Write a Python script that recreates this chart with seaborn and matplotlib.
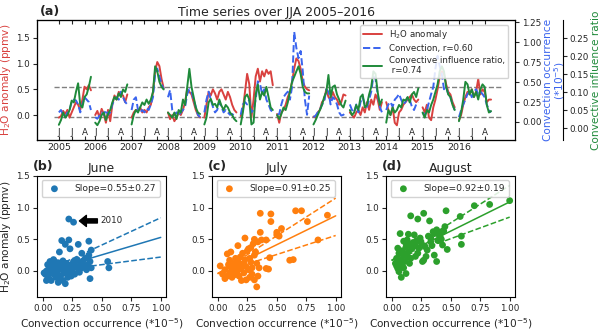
import numpy as np
import pandas as pd
import seaborn as sns
import matplotlib.pyplot as plt
from matplotlib.lines import Line2D

sns.set_style('ticks')
plt.rcParams['font.family'] = ['DejaVu Sans']
plt.rcParams['axes.edgecolor'] = 'black'

years = list(range(2005, 2017))
# pentad index inside each JJA season (0 = 1 June)
pentads = list(range(16))
month_pentads = [0, 6, 12]
month_labels = ['J', 'J', 'A']

# H2O anomaly (ppmv), one row per year
h2o_anom = [
    [-0.05, -0.02, 0.08, 0.02, 0.10, -0.05, 0.05, 0.15, 0.25, 0.20, 0.10, 0.30, 0.55, 0.50, 0.58, 0.48],
    [0.00, 0.08, -0.05, 0.12, 0.02, -0.15, 0.10, -0.12, 0.20, 0.38, 0.30, 0.45, 0.40, 0.38, 0.25, 0.40],
    [-0.05, 0.05, 0.10, 0.08, 0.15, 0.05, 0.10, 0.05, 0.15, 0.20, 0.45, 0.85, 1.03, 0.95, 0.70, 0.52],
    [0.05, -0.08, 0.00, -0.12, -0.05, 0.05, 0.00, 0.10, 0.25, 0.50, 0.45, 0.40, 0.25, 0.10, 0.00, -0.05],
    [-0.05, 0.20, 0.45, 0.38, 0.50, 0.42, 0.30, 0.45, 0.50, 0.40, 0.30, 0.45, 0.35, 0.20, 0.10, 0.05],
    [-0.02, 0.10, 0.45, 0.80, 0.60, -0.05, 0.30, 0.75, 0.90, 0.65, 0.85, 0.75, 0.88, 0.80, 0.85, 0.58],
    [0.02, -0.15, 0.05, 0.10, 0.20, 0.35, 0.45, 0.65, 0.90, 1.10, 1.05, 0.90, 0.65, 0.55, 0.50, 0.48],
    [-0.03, -0.05, 0.05, 0.10, 0.25, 0.30, 0.50, 0.35, 0.30, 0.45, 0.35, 0.30, 0.20, 0.25, 0.40, 0.38],
    [0.05, 0.00, -0.05, 0.05, 0.10, 0.00, 0.15, 0.05, 0.25, 0.10, 0.30, 0.20, 0.40, 0.30, 0.10, 0.25],
    [0.25, 0.10, 0.00, 0.15, -0.15, -0.20, 0.05, 0.10, 0.20, 0.25, 0.30, 0.35, 0.40, 0.30, 0.25, 0.30],
    [0.15, 0.05, 0.20, -0.05, -0.10, 0.15, 0.30, 0.50, 0.75, 0.85, 0.80, 0.60, 0.45, 0.40, 0.25, 0.15],
    [-0.10, 0.00, 0.20, 0.35, 0.45, 0.40, 0.50, 0.35, 0.45, 0.70, 0.40, 0.50, 0.45, 0.25, 0.30, 0.30],
]

# convection occurrence (*1e-5)
convection = [
    [0.12, 0.15, 0.09, 0.06, 0.12, 0.15, 0.25, 0.28, 0.27, 0.22, 0.12, 0.22, 0.31, 0.28, 0.25, 0.15],
    [0.06, 0.04, 0.08, 0.12, 0.09, 0.15, 0.09, 0.12, 0.22, 0.28, 0.31, 0.28, 0.38, 0.31, 0.25, 0.22],
    [0.15, 0.28, 0.31, 0.15, 0.12, 0.15, 0.12, 0.17, 0.15, 0.22, 0.31, 0.60, 0.67, 0.57, 0.48, 0.41],
    [0.31, 0.40, 0.15, 0.09, 0.12, 0.08, 0.12, 0.15, 0.19, 0.35, 0.41, 0.38, 0.28, 0.19, 0.09, 0.06],
    [0.12, 0.28, 0.38, 0.28, 0.19, 0.12, 0.15, 0.25, 0.19, 0.12, 0.15, 0.12, 0.09, 0.10, 0.08, 0.09],
    [0.09, 0.22, 0.25, 0.22, 0.28, 0.12, 0.15, 0.28, 0.51, 0.48, 0.35, 0.41, 0.28, 0.22, 0.15, 0.12],
    [0.09, 0.10, 0.22, 0.31, 0.35, 0.38, 0.28, 0.44, 1.13, 0.93, 0.80, 0.89, 0.64, 0.28, 0.09, 0.33],
    [0.06, 0.08, 0.12, 0.15, 0.22, 0.25, 0.41, 0.38, 0.22, 0.31, 0.28, 0.22, 0.12, 0.08, 0.09, 0.12],
    [0.22, 0.15, 0.12, 0.22, 0.12, 0.25, 0.31, 0.22, 0.19, 0.28, 0.38, 0.57, 0.54, 0.35, 0.19, 0.12],
    [0.15, 0.22, 0.25, 0.19, 0.28, 0.31, 0.35, 0.28, 0.22, 0.25, 0.31, 0.28, 0.19, 0.15, 0.22, 0.25],
    [0.12, 0.08, 0.15, 0.25, 0.35, 0.44, 0.67, 0.83, 0.70, 0.60, 0.41, 0.44, 0.35, 0.31, 0.22, 0.15],
    [0.06, 0.15, 0.22, 0.28, 0.35, 0.38, 0.31, 0.38, 0.41, 0.35, 0.38, 0.35, 0.31, 0.22, 0.15, 0.12],
]

# convective influence ratio
cir = [
    [0.010, 0.023, 0.044, 0.030, 0.037, 0.051, 0.077, 0.072, 0.101, 0.125, 0.065, 0.058, 0.087, 0.094, 0.115, 0.143],
    [0.016, 0.009, 0.020, 0.037, 0.044, 0.023, 0.040, 0.051, 0.072, 0.087, 0.080, 0.097, 0.087, 0.108, 0.101, 0.122],
    [0.011, 0.037, 0.051, 0.044, 0.058, 0.072, 0.065, 0.080, 0.068, 0.080, 0.101, 0.172, 0.158, 0.129, 0.115, 0.108],
    [0.044, 0.037, 0.030, 0.044, 0.026, 0.051, 0.044, 0.080, 0.065, 0.115, 0.165, 0.115, 0.087, 0.058, 0.044, 0.040],
    [0.011, 0.030, 0.072, 0.082, 0.065, 0.068, 0.058, 0.080, 0.063, 0.051, 0.065, 0.058, 0.044, 0.037, 0.026, 0.020],
    [0.011, 0.044, 0.087, 0.094, 0.080, 0.011, 0.016, 0.094, 0.122, 0.080, 0.101, 0.091, 0.115, 0.087, 0.058, 0.051],
    [0.037, 0.026, 0.040, 0.058, 0.051, 0.072, 0.101, 0.129, 0.143, 0.158, 0.172, 0.151, 0.115, 0.101, 0.097, 0.097],
    [0.011, 0.023, 0.037, 0.051, 0.065, 0.087, 0.101, 0.148, 0.087, 0.115, 0.119, 0.094, 0.080, 0.065, 0.058, 0.077],
    [0.051, 0.037, 0.044, 0.065, 0.051, 0.087, 0.094, 0.058, 0.065, 0.094, 0.115, 0.158, 0.151, 0.101, 0.065, 0.080],
    [0.016, 0.051, 0.037, 0.058, 0.044, 0.051, 0.065, 0.058, 0.080, 0.077, 0.087, 0.072, 0.094, 0.101, 0.087, 0.111],
    [0.044, 0.030, 0.051, 0.044, 0.065, 0.080, 0.101, 0.122, 0.158, 0.172, 0.158, 0.115, 0.094, 0.087, 0.065, 0.051],
    [0.020, 0.044, 0.080, 0.129, 0.122, 0.094, 0.108, 0.087, 0.101, 0.080, 0.108, 0.122, 0.115, 0.065, 0.044, 0.048],
]

h2o_levels = [0.54, -0.045]

# monthly scatter: convection occurrence vs H2O anomaly
june_conv = [0.22, 0.26, 0.16, 0.22, 0.19, 0.23, 0.30, 0.39, 0.14, 0.33, 0.39, 0.41, 0.55, 0.56, 0.40,
             0.02, 0.03, 0.04, 0.05, 0.05, 0.06, 0.07, 0.07, 0.08, 0.08, 0.09, 0.10, 0.10, 0.11, 0.11,
             0.12, 0.12, 0.13, 0.13, 0.14, 0.15, 0.15, 0.16, 0.17, 0.17, 0.18, 0.18, 0.19, 0.20, 0.20,
             0.21, 0.22, 0.23, 0.24, 0.25, 0.26, 0.27, 0.28, 0.29, 0.30, 0.31, 0.32, 0.33, 0.34, 0.35,
             0.36, 0.37, 0.38, 0.40, 0.41, 0.06, 0.09, 0.14, 0.04, 0.24, 0.03, 0.01]
june_h2o = [0.82, 0.77, 0.48, 0.49, 0.42, 0.35, 0.42, 0.47, 0.30, 0.28, 0.25, 0.33, 0.15, 0.05, -0.12,
            -0.05, 0.00, -0.08, 0.03, -0.12, 0.08, -0.02, -0.15, 0.05, 0.12, -0.05, 0.02, 0.15, -0.10, 0.08,
            0.00, -0.05, 0.13, -0.18, 0.05, -0.08, 0.10, 0.02, -0.15, 0.16, -0.03, 0.07, -0.20, 0.00, 0.12,
            -0.10, 0.05, -0.02, 0.10, 0.02, 0.15, -0.05, 0.08, 0.18, 0.03, -0.02, 0.12, 0.05, 0.16, 0.08,
            0.20, 0.02, 0.10, 0.15, 0.05, 0.15, 0.18, -0.12, 0.10, -0.08, -0.15, -0.03]

july_conv = [0.36, 0.45, 0.45, 0.66, 0.71, 0.76, 0.93, 0.85, 0.54, 0.50, 0.52, 0.50, 0.36, 0.23, 0.34,
             0.31, 0.37, 0.41, 0.61, 0.64, 0.44, 0.41, 0.43, 0.28, 0.31, 0.27, 0.30, 0.26, 0.33, 0.29,
             0.02, 0.04, 0.06, 0.06, 0.08, 0.08, 0.09, 0.10, 0.10, 0.11, 0.12, 0.12, 0.13, 0.14, 0.14,
             0.15, 0.15, 0.16, 0.17, 0.17, 0.18, 0.18, 0.19, 0.19, 0.20, 0.20, 0.21, 0.22, 0.22, 0.23,
             0.24, 0.24, 0.25, 0.26, 0.27, 0.28, 0.29, 0.31, 0.32, 0.33, 0.34, 0.35]
july_h2o = [0.91, 0.90, 0.78, 0.95, 0.95, 0.78, 0.88, 0.49, 0.67, 0.61, 0.55, 0.57, 0.61, 0.52, 0.46,
            0.50, 0.49, 0.49, 0.17, 0.18, 0.21, 0.04, 0.03, 0.37, 0.25, 0.20, 0.43, 0.35, 0.12, 0.05,
            0.08, -0.05, -0.12, 0.02, 0.27, -0.08, 0.10, 0.17, -0.03, 0.30, 0.05, -0.10, 0.00, 0.12, -0.06,
            0.20, 0.08, -0.02, 0.40, 0.15, 0.03, -0.08, 0.22, 0.10, 0.05, -0.15, 0.28, 0.12, -0.03, 0.18,
            -0.14, 0.07, 0.32, 0.02, -0.10, 0.14, -0.05, -0.14, 0.30, -0.25, -0.08, 0.05]

aug_conv = [1.00, 0.83, 0.70, 0.58, 0.46, 0.27, 0.16, 0.22, 0.32, 0.59, 0.59, 0.47, 0.38, 0.38, 0.41,
            0.36, 0.41, 0.42, 0.33, 0.33, 0.24, 0.19, 0.07, 0.13, 0.12, 0.15, 0.05, 0.10, 0.27, 0.26,
            0.29, 0.36, 0.22, 0.20, 0.16, 0.10, 0.08, 0.05, 0.06, 0.08, 0.12, 0.09, 0.03, 0.04, 0.06,
            0.07, 0.09, 0.11, 0.12, 0.13, 0.14, 0.15, 0.17, 0.18, 0.20, 0.21, 0.23, 0.25, 0.28, 0.30,
            0.31, 0.34, 0.35, 0.39, 0.40, 0.43, 0.44, 0.45, 0.05, 0.10, 0.14, 0.04]
aug_h2o = [1.11, 1.05, 1.03, 0.86, 0.95, 0.91, 0.87, 0.82, 0.79, 0.55, 0.42, 0.34, 0.15, 0.65, 0.60,
           0.59, 0.54, 0.50, 0.46, 0.52, 0.52, 0.57, 0.59, 0.49, 0.44, 0.41, 0.36, 0.47, 0.17, 0.15,
           0.23, 0.25, 0.28, 0.23, 0.20, 0.25, 0.17, 0.04, -0.01, -0.10, -0.04, 0.07, 0.12, 0.20, 0.28,
           0.10, 0.32, 0.15, 0.38, 0.22, 0.30, 0.12, 0.35, 0.45, 0.40, 0.48, 0.36, 0.44, 0.39, 0.33,
           0.55, 0.40, 0.62, 0.48, 0.57, 0.41, 0.63, 0.70, 0.15, 0.05, 0.58, 0.08]

# fitted lines: intercept, slope, upper/lower dashed slope
fit_intercept = [-0.02, -0.04, 0.17]
fit_slope = [0.55, 0.91, 0.92]
fit_err = [0.27, 0.25, 0.19]
band_hi = [0.86, 1.19, 1.18]
band_lo = [0.24, 0.60, 0.68]

red, blue, green = '#d9413f', '#3a64ee', '#1f8a3a'
TICK, LAB = 6.3, 7.6

# long table for the time series
rows = []
for i, yr in enumerate(years):
    for k in pentads:
        rows.append({'year': yr, 'x': i + k / 17, 'h2o': h2o_anom[i][k],
                     'conv': convection[i][k], 'cir': cir[i][k]})
ts = pd.DataFrame(rows)

fig = plt.figure(figsize=(6.0, 3.29), dpi=100)
ax = fig.add_axes([0.0617, 0.5745, 0.7966, 0.3645])
ax2 = ax.twinx()
ax3 = ax.twinx()
ax3.spines['right'].set_position(('axes', 1.10))

ax.hlines(h2o_levels, -0.12, 12.2, colors='grey', linestyles='--', linewidth=1)
sns.lineplot(data=ts, x='x', y='h2o', units='year', estimator=None, color=red,
             lw=1.4, ax=ax, legend=False)
sns.lineplot(data=ts, x='x', y='conv', units='year', estimator=None, color=blue,
             lw=1.4, linestyle='--', ax=ax2, legend=False)
sns.lineplot(data=ts, x='x', y='cir', units='year', estimator=None, color=green,
             lw=1.4, ax=ax3, legend=False)

ax.set_xlim(-0.6, 12.54)
ax.set_ylim(-0.485, 1.845)
ax2.set_ylim(-0.226, 1.278)
ax3.set_ylim(-0.032, 0.30)

ax.set_yticks([0.0, 0.5, 1.0, 1.5])
ax2.set_yticks([0.0, 0.25, 0.5, 0.75, 1.0, 1.25])
ax3.set_yticks([0.0, 0.05, 0.10, 0.15, 0.20, 0.25])

ax.xaxis.remove_overlapping_locs = False
ax.set_xticks([i + p / 17 for i in range(len(years)) for p in month_pentads])
ax.set_xticklabels(month_labels * len(years))
ax.set_xticks(range(len(years)), minor=True)
ax.set_xticklabels([str(y) for y in years], minor=True)
ax.tick_params(axis='x', which='major', direction='in', top=True, bottom=True,
               length=3, pad=-8.5, labelsize=TICK)
ax.tick_params(axis='x', which='minor', length=0, pad=2, labelsize=6.8)
for a in (ax, ax2, ax3):
    a.tick_params(axis='y', labelsize=TICK, length=3, pad=2)
    a.set_xlabel('')

ax.set_ylabel('H$_2$O anomaly (ppmv)', color=red, fontsize=LAB, labelpad=2)
ax2.set_ylabel('Convection occurrence\n(*10$^{-5}$)', color=blue, fontsize=LAB,
               labelpad=1, linespacing=0.95)
ax3.set_ylabel('Convective influence ratio', color=green, fontsize=LAB, labelpad=1)
ax.set_title('Time series over JJA 2005–2016', fontsize=9, pad=3)
ax.text(0.005, 1.02, '(a)', transform=ax.transAxes, fontsize=9,
        fontweight='bold', ha='left', va='bottom')

handles = [Line2D([], [], color=red, lw=1.4),
           Line2D([], [], color=blue, lw=1.4, linestyle='--'),
           Line2D([], [], color=green, lw=1.4)]
ax3.legend(handles, ['H$_2$O anomaly', 'Convection, r=0.60',
                     'Convective influence ratio,\n r=0.74'],
           loc='upper right', fontsize=6.2, borderpad=0.35, labelspacing=0.35,
           handlelength=2.2, framealpha=0.85, bbox_to_anchor=(0.995, 0.995))

# scatter panels
months = ['June', 'July', 'August']
tags = ['(b)', '(c)', '(d)']
conv_sets = [june_conv, july_conv, aug_conv]
h2o_sets = [june_h2o, july_h2o, aug_h2o]
colors = ['#1f77b4', '#ff7f0e', '#2ca02c']
lefts = [0.0617, 0.3533, 0.6433]
xfit = np.linspace(0, 1, 20)
for j in range(3):
    axs = fig.add_axes([lefts[j], 0.0973, 0.215, 0.368])
    axs.plot(xfit, fit_intercept[j] + fit_slope[j] * xfit, color=colors[j], lw=1.1, zorder=1)
    axs.plot(xfit, fit_intercept[j] + band_hi[j] * xfit, color=colors[j], lw=1.1, ls='--', zorder=1)
    axs.plot(xfit, fit_intercept[j] + band_lo[j] * xfit, color=colors[j], lw=1.1, ls='--', zorder=1)
    sns.scatterplot(x=conv_sets[j], y=h2o_sets[j], color=colors[j], s=24,
                    edgecolor='none', ax=axs, zorder=2,
                    label=f'Slope={fit_slope[j]:.2f}±{fit_err[j]:.2f}')
    axs.set_xlim(-0.05, 1.045)
    axs.set_ylim(-0.41, 1.5)
    axs.set_xticks([0, 0.25, 0.5, 0.75, 1.0])
    axs.set_yticks([0.0, 0.5, 1.0, 1.5])
    axs.tick_params(labelsize=TICK, length=3, pad=2)
    axs.set_xlabel('Convection occurrence (*10$^{-5}$)', fontsize=LAB, labelpad=2)
    axs.set_title(months[j], fontsize=9, pad=3)
    axs.text(-0.03, 1.02, tags[j], transform=axs.transAxes, fontsize=9,
             fontweight='bold', ha='left', va='bottom')
    axs.legend(loc='upper left', fontsize=6.6, borderpad=0.4, handletextpad=1.2,
               framealpha=0.85)
    if j == 0:
        axs.set_ylabel('H$_2$O anomaly (ppmv)', fontsize=LAB, labelpad=2)
        axs.annotate('2010', xy=(0.31, 0.79), xytext=(0.49, 0.79), fontsize=6.3,
                     va='center',
                     arrowprops=dict(facecolor='black', edgecolor='black',
                                     width=3, headwidth=8, headlength=5))

fig.savefig('out.png', dpi=100)
